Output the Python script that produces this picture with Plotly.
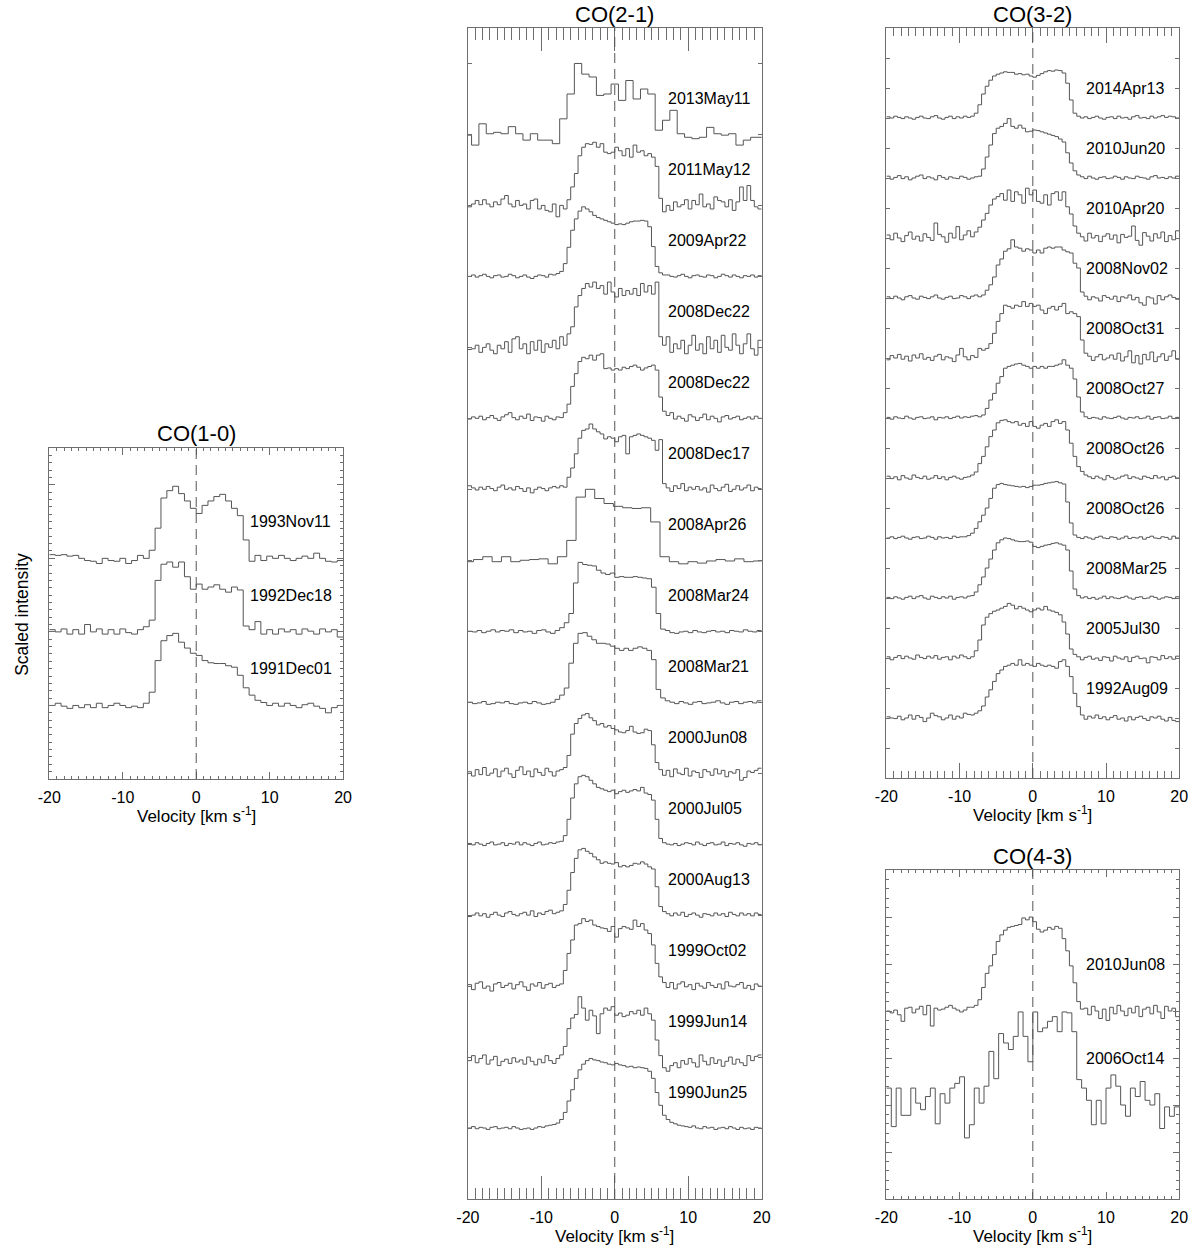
import numpy as np
import plotly.graph_objects as go

W, H = 1200, 1247

# ---------------------------------------------------------------- data
vel_ticks = [-20, -10, 0, 10, 20]
vel_ticktext = ["-20", "-10", "0", "10", "20"]

# intensities in percent of the scaled peak, per channel

# CO(1-0): 0.8 km/s channels from -20 km/s
co10_1993Nov11 = [5, 4, 5, 3, 4, 0, -3, -4, -7, 0, -3, -4, 0, -7, -3, 4, 0, 11, 41, 82,
                  92, 98, 88, 78, 68, 61, 72, 78, 84, 87, 78, 68, 58, 25, -4, 4, -3, 3, 0, 4,
                  0, -3, 0, 3, 0, 7, 0, -4, -5, -3]
co10_1992Dec18 = [3, 0, 4, -3, 3, -3, 10, 0, 4, -3, 3, -3, 4, -1, -3, 3, 7, 16, 70, 92,
                  95, 88, 95, 75, 58, 65, 58, 61, 64, 58, 54, 61, 57, 8, 3, 14, -3, 3, -3, 4,
                  0, 3, -3, 4, 1, -3, 4, 0, 3, -7]
co10_1991Dec01 = [0, 3, -1, -4, 0, -3, 1, -3, 3, -3, 0, 3, 0, -3, -1, -3, 3, 18, 61, 88,
                  95, 98, 86, 78, 71, 68, 61, 58, 57, 57, 54, 52, 41, 24, 14, 7, 4, 0, 3, -1,
                  3, 0, -3, 1, 3, -1, -4, -10, -3, 0]

# CO(2-1)
co21_2013May11 = [-1, -15, 15, 1, 3, 1, 11, 1, -8, 1, -8, -8, -13, 22, 57, 100, 85, 81, 55, 57,
                  71, 48, 76, 50, 64, 57, 6, 20, 34, 1, -4, -6, -4, 10, 1, -1, 1, -15, -8, -4, -4]
co21_2011May12 = [-2, 2, 7, 1, 8, 2, -2, 5, 1, 9,
                  14, 2, -2, 7, 0, 2, -5, 7, 9, -5,
                  0, -7, -9, 2, -16, 0, -5, 8, 26, 45,
                  70, 82, 87, 86, 89, 82, 87, 75, 73, 75,
                  82, 77, 70, 80, 68, 85, 75, 77, 70, 73,
                  68, 55, 10, -9, 0, -7, 5, -2, 1, 8,
                  -5, 7, 1, 16, -2, 2, -5, 12, 7, 5,
                  -2, 8, -7, 5, 26, 7, 28, 7, -2, -5]
co21_2009Apr22 = [0, 2, -1, 1, 3, 0, -2, 1, 2, -1, 0, 3, 1, -2, 0, 2, -1, -3, 0, 2, 1, -1, 3, 2, 4, 7,
                  18, 41, 65, 81, 92, 98, 95, 91, 86, 83, 81, 79, 77, 75, 73, 74, 73, 75, 77, 78,
                  78, 79, 78, 70, 42, 14, 5, 2,
                  2, 0, -1, 1, 3, 0, -2, 1, 2, 0, -1, 2, 1, -2, 0, 3, 1, -1, 2, 0, -2, 1, 0, 2, -1, 1]
co21_2008Dec22a = [-3, -2, 3, -7, 0, 5, -4, -9, 3, -2,
                   8, -7, 12, 15, -2, 5, -9, 8, -4, 10,
                   -7, 5, 0, 10, -2, 15, 3, 19, 29, 57,
                   73, 83, 90, 85, 92, 83, 87, 75, 92, 78,
                   71, 83, 73, 80, 75, 83, 73, 90, 78, 87,
                   75, 92, 15, 3, 15, -7, 5, -2, 10, -9,
                   3, 17, -4, 5, -9, 15, -2, 10, -7, 17,
                   0, -4, 19, 3, -9, 5, 19, -2, -11, 10]
co21_2008Dec22b = [-1, 2, 0, 3, -2, 1, 4, 0, -3, 2, 5, 8, 1, -2, 3, 0, 6, -3, 2, 1, -4, 3, 0, -2, 2, 1,
                   8, 20, 45, 63, 80, 86, 84, 89, 82, 89, 91, 70, 71, 68, 70, 68, 72, 70, 73, 75,
                   72, 68, 71, 73, 75, 68, 30, 10,
                   4, 8, -1, 3, 0, -4, 5, 2, -3, 1, 6, -2, 3, 0, -5, 2, 4, -1, 1, 3, -2, 0, 2, -1, 3, 0]
co21_2008Dec17 = [5, 2, -1, 3, 0, 4, 1, -2, 3, 6, 0, 2, -1, 4, 1, -3, 2, -5, 0, 3, 1, -2, 2, 4, 2, 5,
                  3, 17, 30, 50, 72, 83, 85, 92, 85, 81, 78, 71, 74, 72, 67, 74, 76, 50, 74, 76,
                  78, 76, 74, 72, 69, 55, 70, 8,
                  2, -3, 5, 1, 8, -2, 3, 0, 4, -1, 2, -4, 6, 1, -2, 3, 7, -3, 0, 5, -1, 2, 6, -2, 3, 1]
co21_2008Apr26 = [-2, 1, 5, -2, 5, -2, 0, 1, 2, -5, 5, 28, 89, 100, 87, 80, 76, 74, 73, 74,
                  54, 5, -2, -5, -2, -4, -1, 1, -1, 2, -2, -1]
co21_2008Mar24 = [0, -1, 1, -2, 0, 2, -1, 1, 0, 2, -2, 1, -1, 0, -3, 1, 2, -1, -3, 1, 5,
                  12, 25, 68, 97, 94, 93, 92, 86, 82, 80, 82, 76, 77, 76, 76, 77, 76, 75, 74, 62, 25, 3,
                  1, -2, -3, -1, 0, -2, 1, -1, -2, 0, 1, -1, 0, -2, 1, 0, -1, 2, 0, -1, 1]
co21_2008Mar21 = [0, -2, -1, 1, -3, -2, 0, -1, 1, -2, -3, -1, 0, -2, 1, -1, -3, -2, 0, 4,
                  10, 20, 55, 83, 97, 98, 93, 88, 83, 83, 82, 79, 76, 73, 76, 73, 76, 78, 76, 73, 60, 18, 6,
                  2, 0, -2, 1, -1, -3, 0, 1, -2, -1, 0, 2, -1, -3, 0, 1, -2, 0, 1, -1, 2]
co21_2000Jun08 = [2, -4, 5, -2, 8, -3, 0, 6, -5, 3, 7, -1, -6, 4, 9, -2, 3, -5, 6, 1, -3, 7, 2, -4, 3, 5,
                  8, 25, 55, 70, 77, 82, 84, 78, 74, 68, 70, 65, 67, 63, 61, 58, 57, 60, 66, 58,
                  56, 57, 62, 60, 40, 15, 5,
                  -3, 4, -5, 6, 0, -2, 7, -4, 3, 1, -6, 5, 2, -3, 6, -1, 4, -5, 2, 0, 5, -10, -6, 3, 1, 4, 7]
co21_2000Jul05 = [1, -1, 2, 0, -2, 1, 3, -1, 0, 2, -2, 1, 0, 3, -1, 2, 0, -2, 1, 3, -1, 0, 2, 1, 3, 4,
                  12, 35, 65, 85, 95, 97, 95, 90, 85, 80, 78, 76, 74, 76, 71, 74, 76, 73, 75, 77,
                  75, 80, 72, 70, 62, 35, 8,
                  2, 0, -1, 1, -2, 0, 2, 1, -1, 3, 0, -2, 1, 2, -1, 0, 3, -2, 1, 0, 2, -1, -3, 1, 0, 2, -1]
co21_2000Aug13 = [-2, 0, 3, -1, 2, -3, 1, 4, 0, -2, 3, 5, 1, -1, 2, 4, 0, 6, -2, 3, 1, 5, 7, 2, 4, 6,
                  15, 35, 60, 80, 92, 94, 90, 87, 82, 78, 73, 75, 73, 72, 74, 68, 70, 68, 70, 73,
                  72, 75, 72, 68, 65, 40, 12,
                  5, 2, -1, 3, 0, 4, -2, 1, 3, 0, -3, 2, 1, -1, 3, 0, 2, -2, 4, 1, -1, 3, 0, 2, -1, 3, 1]
co21_1999Oct02 = [2, -5, 4, 6, -3, 0, -7, 3, 5, -2, 1, 4, -4, 2, 6, -1, -6, 3, 0, 5, -3, 2, 4, -2, 1,
                  3, 22, 46, 65, 86, 88, 95, 91, 93, 86, 84, 82, 81, 77, 84, 69, 81, 84, 82, 80,
                  93, 84, 88, 79, 74, 58, 32, 13, 5,
                  -2, 5, -4, 3, 6, -1, 2, -5, 4, 0, -3, 5, 1, -2, 3, -4, 6, 0, -1, 2, 5, -3, 1, -5, 3, 0]
co21_1999Jun14 = [-5, 2, -8, -2, 3, -10, -4, 1, -12, -6, -3, -9, -1, -7, -4, -10, 0, -6, -11, -3,
                  -8, 2, -5, -9, -2, 3,
                  15, 40, 55, 60, 85, 69, 52, 66, 58, 33, 61, 69, 66, 71, 59, 62, 57, 59, 64, 61,
                  66, 59, 69, 61, 52, 24, 2, -15,
                  -20, -12, -8, -15, -5, -10, -2, -8, -14, 3, -6, -11, -1, -9, -4, -13, -6, 0,
                  -10, -3, -8, -12, 2, -5, 1, 3]
co21_1990Jun25 = [0, 2, -1, 1, 0, -2, 1, 2, -1, 0, 1, -1, 2, 0, -2, -1,
                  0, -2, 0, 2, 1, 3, 4, 5, 7, 12, 22, 38, 54, 70, 82, 90, 95, 98, 96, 95,
                  93, 92, 90, 89, 91, 89, 88, 86, 87, 85, 86, 85, 84, 80, 70, 50, 32, 18, 12, 8,
                  6, 4, 3,
                  2, 1, 3, 0, -1, 2, 0, 1, -2, 0, 1, -1, 2, 0, -2, 1, -1, 0, -2, 1, 0]

# CO(3-2): 0.5 km/s channels
co32_2014Apr13 = [2, 0, 3, 1, -1, 2, 0, -2, 1, 3, 0, -1, 2, 4, 0, -2, 1, 3, -1, 2, 0, 3, 1,
                  3, 8, 22, 40, 53, 63, 70, 73, 75, 77, 76, 76, 73, 74, 72, 73, 70, 68, 71, 74,
                  77, 79, 78, 80, 79, 75, 58, 30, 8, 3,
                  0, 2, -1, 1, 3, 0, -2, 1, 2, -1, 3, 0, 1, -2, 2, 4, 0, 1, -1, 3, 0, 2, 4, 1, 3, 2, 0]
co32_2010Jun20 = [3, -2, 1, 4, -1, 2, -3, 0, 3, 5, -1, 2, 0, -3, 4, 1, -2, 2, 0, -1, 3, 1, -2, 0, 2,
                  3, 15, 35, 55, 74, 83, 86, 91, 99, 86, 83, 88, 83, 77, 78, 80, 79, 77, 75, 73,
                  71, 69, 65, 60, 42, 25, 12, 5,
                  2, -1, 3, 0, -2, 1, 2, -1, 0, 3, 1, -2, 2, 0, -1, 3, 1, 0, -2, 2, 4, 0, 1, -1, 2, 0, 3]
co32_2010Apr20 = [5, -3, 8, 0, -6, 4, 10, -2, 3, -5, 7, 1, -4, 25, 6, 2, -7, 8, 0, 19, -3, 5, 12, 2,
                  10, 18, 30, 41, 55, 65, 69, 74, 63, 80, 61, 77, 72, 58, 83, 72, 80, 61, 58, 72,
                  55, 74, 77, 63, 77, 52, 40, 20, 8,
                  2, -5, 8, 0, 4, -6, 3, 7, -2, 5, -8, 6, 1, 3, 20, -4, -12, 9, 3, -5, 7, 0, 10, -6, 4, -3, 12]
co32_2008Nov02 = [2, -1, 3, 0, -3, 2, 4, 0, -2, 3, 1, -1, 2, 5, 0, -2, 1, 3, -1, 0, 4, 2, -1, 3, 5, 2,
                  5, 13, 22, 35, 55, 65, 78, 82, 97, 85, 83, 78, 82, 80, 75, 80, 75, 83, 85, 83,
                  85, 85, 80, 77, 75, 58, 50, 10, 3,
                  -3, 2, 0, -5, 4, 1, -2, 3, -6, 2, 0, 5, -3, 1, -8, -12, 2, 0, -10, 4, -3, 2, 5, 1, -2]
co32_2008Oct31 = [-3, 4, 0, 6, -2, 3, -5, 5, 0, 7, -2, 1, -4, 3, 6, -3, 2, 0, -6, 5, 16, 2, -3, 4, 1, 16, 13,
                  16, 24, 41, 61, 74, 88, 86, 83, 88, 86, 94, 86, 91, 86, 88, 80, 74, 83, 86, 80,
                  86, 91, 74, 77, 74, 69, 30, 8,
                  3, -4, 2, 6, -3, 0, 5, -2, 8, -5, 2, 12, -8, 4, -10, 6, -3, 10, -6, 2, 7, -4, 3, 12, -2]
co32_2008Oct27 = [1, -2, 2, 0, -1, 3, 0, -2, 1, 2, -1, 0, 2, -3, 1, 0, 2, -1, 1, 3, 0, 2, 1, 3, 4, 2,
                  5, 16, 30, 41, 58, 69, 83, 86, 88, 90, 91, 88, 86, 83, 86, 83, 86, 83, 86, 86,
                  88, 90, 97, 88, 83, 65, 35, 10, 2,
                  -1, 1, 0, -2, 2, 0, -1, 1, 3, 0, -2, 1, 0, 2, -1, 0, 3, -2, 1, 2, -1, 0, 3, -1, 1]
co32_2008Oct26a = [3, -1, 2, -3, 4, 0, -2, 5, 1, -1, 3, -2, 0, 4, -1, 2, -3, 1, 3, 0, -2, 1,
                   2, 5, 10, 24, 36, 52, 69, 80, 92, 96, 97, 94, 92, 94, 88, 91, 86, 94, 86, 83,
                   88, 91, 86, 94, 97, 91, 94, 80, 58, 36, 19, 11, 5,
                   2, -1, 3, 0, -3, 4, 1, -2, 0, 3, 5, -1, 2, 0, -2, 3, 1, -1, 4, 0, 2, -3, 1, 3, 0]
co32_2008Oct26b = [0, 2, -1, 1, 3, 0, -2, 1, 2, -1, 0, 3, 1, -2, 2, 0, 1, -1, 3, 1, 2,
                   2, 4, 8, 16, 27, 38, 50, 66, 83, 89, 91, 89, 88, 87, 86, 85, 86, 84, 86, 88,
                   88, 89, 91, 92, 93, 94, 92, 90, 60, 25, 5, 1,
                   -1, 2, 0, -2, 1, 3, 0, -1, 2, 1, -2, 0, 3, -1, 1, 0, 2, -2, 1, 3, 0, -1, 2, 1, -2, 3, 0]
co32_2008Mar25 = [1, -1, 2, 0, -2, 1, 3, -1, 2, 4, 0, -2, 3, 1, -1, 2, 0, 3, -2, 1, 2, 0, 3,
                  4, 10, 22, 35, 50, 65, 80, 92, 97, 100, 99, 97, 95, 94, 94, 95, 93, 86, 84, 86,
                  88, 89, 91, 92, 90, 88, 80, 45, 15, 4,
                  0, 2, -1, 1, -2, 0, 3, -1, 2, 0, -1, 1, 3, 0, -2, 1, 2, -1, 0, 3, 1, -2, 0, 2, 1, -1, 2]
co32_2005Jul30 = [2, -3, 1, 4, -1, 3, 0, -2, 5, 1, -1, 3, 0, 4, -2, 1, 2, -3, 3, 0, 5, 2, -1,
                  2, 12, 30, 55, 68, 74, 78, 80, 83, 86, 91, 88, 82, 86, 83, 80, 77, 80, 83, 80,
                  86, 80, 78, 76, 72, 60, 40, 15, 6, 2,
                  -3, 1, 3, -2, 0, -4, 2, 1, -5, 3, 0, -2, 2, -6, 1, 3, -1, 0, -8, 2, 1, -3, 4, -1, 2, -2, 3]
co32_1992Aug09 = [2, 0, -1, 3, -3, 0, 5, -2, 4, 1, -6, 0, 8, 4, 2, -3, 0, 5, -2, 3, 0, 8, 6,
                  5, 8, 12, 20, 35, 47, 61, 74, 80, 86, 88, 91, 88, 97, 88, 91, 88, 86, 91, 88,
                  86, 88, 86, 83, 94, 97, 86, 69, 41, 19, 5,
                  -2, 3, 0, 5, -1, 2, -3, 1, 4, -2, 0, -5, 2, -3, 1, 3, -1, -4, 2, 0, 3, -2, -5, 1, -4, -6]

# CO(4-3)
co43_2010Jun08 = [0, -2, 1, -4, -11, 3, 4, -2, 2, 5, -4, 6, -16, 3, 1, 2, 4, 6, 3, 1, -1, 1, 4,
                  4, 6, 12, 25, 40, 48, 60, 74, 81, 86, 89, 90, 91, 92, 99, 97, 100, 95, 87, 84,
                  86, 89, 87, 90, 88, 77, 64, 48, 30, 10, 2,
                  3, -4, 5, 0, -8, 2, -10, 4, -3, 6, 0, -5, 3, -2, 5, -6, 2, 4, -3, 6, -1, -8, 5, 0, 3, -6]
co43_2006Oct14 = [18, -23, 18, -11, -11, 18, 2, -5, 9, 18, -20, 12, 2, 18, 23, 30, -35, -21, 18, 2,
                  20, 57, 28, 76, 66, 59, 73, 99, 73, 46, 99, 78, 82, 89, 94, 78, 99, 98, 78, 27,
                  18, 5, -21, 5, -20, 18, 32, 20, 0, -12, 18, 9, 25, 5, 0, 12, -25, -2, -12, -2]

# spectra table: panel, date label, offset (scaled intensity), left edge of first channel, channel width, values
spectra = [
    ("co10", "1993Nov11", 2, -20.0, 0.8, co10_1993Nov11),
    ("co10", "1992Dec18", 1, -20.0, 0.8, co10_1992Dec18),
    ("co10", "1991Dec01", 0, -20.0, 0.8, co10_1991Dec01),

    ("co21", "2013May11", 14, -20.5, 1.0, co21_2013May11),
    ("co21", "2011May12", 13, -20.0, 0.5, co21_2011May12),
    ("co21", "2009Apr22", 12, -20.0, 0.5, co21_2009Apr22),
    ("co21", "2008Dec22", 11, -20.0, 0.5, co21_2008Dec22a),
    ("co21", "2008Dec22", 10, -20.0, 0.5, co21_2008Dec22b),
    ("co21", "2008Dec17", 9, -20.0, 0.5, co21_2008Dec17),
    ("co21", "2008Apr26", 8, -20.51, 1.27, co21_2008Apr26),
    ("co21", "2008Mar24", 7, -20.0, 0.625, co21_2008Mar24),
    ("co21", "2008Mar21", 6, -20.0, 0.625, co21_2008Mar21),
    ("co21", "2000Jun08", 5, -20.0, 0.5, co21_2000Jun08),
    ("co21", "2000Jul05", 4, -20.0, 0.5, co21_2000Jul05),
    ("co21", "2000Aug13", 3, -20.0, 0.5, co21_2000Aug13),
    ("co21", "1999Oct02", 2, -20.0, 0.5, co21_1999Oct02),
    ("co21", "1999Jun14", 1, -20.0, 0.5, co21_1999Jun14),
    ("co21", "1990Jun25", 0, -20.0, 0.5, co21_1990Jun25),

    ("co32", "2014Apr13", 10, -20.0, 0.5, co32_2014Apr13),
    ("co32", "2010Jun20", 9, -20.0, 0.5, co32_2010Jun20),
    ("co32", "2010Apr20", 8, -20.0, 0.5, co32_2010Apr20),
    ("co32", "2008Nov02", 7, -20.0, 0.5, co32_2008Nov02),
    ("co32", "2008Oct31", 6, -20.0, 0.5, co32_2008Oct31),
    ("co32", "2008Oct27", 5, -20.0, 0.5, co32_2008Oct27),
    ("co32", "2008Oct26", 4, -20.0, 0.5, co32_2008Oct26a),
    ("co32", "2008Oct26", 3, -20.0, 0.5, co32_2008Oct26b),
    ("co32", "2008Mar25", 2, -20.0, 0.5, co32_2008Mar25),
    ("co32", "2005Jul30", 1, -20.0, 0.5, co32_2005Jul30),
    ("co32", "1992Aug09", 0, -20.0, 0.5, co32_1992Aug09),

    ("co43", "2010Jun08", 1, -20.0, 0.5, co43_2010Jun08),
    ("co43", "2006Oct14", 0, -20.0, 2.0 / 3.0, co43_2006Oct14),
]

# ---------------------------------------------------------------- layout / style
FONT = "Liberation Sans, Arial, Helvetica, sans-serif"
LINE = "#555555"
FRAME = "#6e6e6e"

# pixel boxes (left, right, top, bottom) of each panel frame
panels = {
    "co10": dict(n=1, title="CO(1-0)", box=(38, 337, 448, 779), yr=[-1, 3.5],
                 xmaj=6.6, xmin=3.3, ydt=1, ylen=6, ymdt=0.1, ymlen=3),
    "co21": dict(n=2, title="CO(2-1)", box=(464, 763, 28, 1199), yr=[-1, 15.5],
                 xmaj=23, xmin=11.5, ydt=1, ylen=4, ymdt=None, ymlen=0),
    "co32": dict(n=3, title="CO(3-2)", box=(890, 1188, 28, 778), yr=[-1, 11.5],
                 xmaj=15, xmin=7.5, ydt=0.5, ylen=4, ymdt=None, ymlen=0),
    "co43": dict(n=4, title="CO(4-3)", box=(890, 1188, 870, 1199), yr=[-1, 2.5],
                 xmaj=6.6, xmin=3.3, ydt=0.5, ylen=6, ymdt=0.1, ymlen=3),
}

fig = go.Figure()

for panel, label, off, v0, dv, vals in spectra:
    p = panels[panel]
    sfx = "" if p["n"] == 1 else str(p["n"])
    v = np.asarray(vals, dtype=float) / 100.0 + off
    edges = v0 + dv * np.arange(len(vals) + 1)
    yy = np.append(v, v[-1])
    fig.add_trace(go.Scatter(
        x=edges, y=yy, mode="lines",
        line=dict(shape="hv", color=LINE, width=1),
        xaxis="x" + sfx, yaxis="y" + sfx,
        hoverinfo="skip", showlegend=False))
    fig.add_annotation(
        x=7.0, y=off + 0.5, xref="x" + sfx, yref="y" + sfx,
        text=label, showarrow=False, xanchor="left", yanchor="middle",
        font=dict(family=FONT, size=16, color="black"))

layout = {}
shapes = []
annotations = list(fig.layout.annotations)
for key, p in panels.items():
    n = p["n"]
    sfx = "" if n == 1 else str(n)
    l, r, t, b = p["box"]
    xdom = [l / W, r / W]
    ydom = [1 - b / H, 1 - t / H]
    layout["xaxis" + sfx] = dict(
        domain=xdom, anchor="y" + sfx, range=[-20, 20],
        showline=True, linecolor=FRAME, linewidth=1, mirror="ticks",
        ticks="inside", ticklen=p["xmaj"], tickwidth=1, tickcolor=FRAME,
        tickmode="array", tickvals=vel_ticks, ticktext=vel_ticktext,
        tickfont=dict(family=FONT, size=16, color="black"),
        ticklabelstandoff=4,
        minor=dict(ticks="inside", ticklen=p["xmin"], tickmode="linear", tick0=0, dtick=1,
                   tickcolor=FRAME, tickwidth=1, showgrid=False),
        showgrid=False, zeroline=False, fixedrange=True)
    yax = dict(
        domain=ydom, anchor="x" + sfx, range=p["yr"],
        showline=True, linecolor=FRAME, linewidth=1, mirror="ticks",
        ticks="inside", ticklen=p["ylen"], tickwidth=1, tickcolor=FRAME,
        tickmode="linear", tick0=0, dtick=p["ydt"], showticklabels=False,
        showgrid=False, zeroline=False, fixedrange=True)
    if p["ymdt"]:
        yax["minor"] = dict(ticks="inside", ticklen=p["ymlen"], tickmode="linear", tick0=0,
                            dtick=p["ymdt"], tickcolor=FRAME, tickwidth=1, showgrid=False)
    layout["yaxis" + sfx] = yax

    shapes.append(dict(type="line", xref="x" + sfx, yref="y" + sfx + " domain",
                       x0=0, x1=0, y0=0, y1=1,
                       line=dict(color=LINE, width=1, dash="10px,6px")))
    cx = (l + r) / 2 / W
    annotations.append(dict(x=cx, y=1 - (t - 14) / H, xref="paper", yref="paper",
                            text=p["title"], showarrow=False, xanchor="center", yanchor="middle",
                            font=dict(family=FONT, size=22, color="black")))
    annotations.append(dict(x=cx, y=1 - (b + 36) / H, xref="paper", yref="paper",
                            text="Velocity [km s<sup>-1</sup>]", showarrow=False,
                            xanchor="center", yanchor="middle",
                            font=dict(family=FONT, size=17, color="black")))

annotations.append(dict(x=10 / W, y=1 - 614 / H, xref="paper", yref="paper",
                        text="Scaled intensity", showarrow=False, textangle=-90,
                        xanchor="center", yanchor="middle",
                        font=dict(family=FONT, size=17.5, color="black")))

fig.update_layout(
    width=W, height=H, autosize=False, margin=dict(l=0, r=0, t=0, b=0, pad=0),
    paper_bgcolor="white", plot_bgcolor="white",
    font=dict(family=FONT, color="black"),
    shapes=shapes, annotations=annotations, showlegend=False,
    **layout)

fig.write_html(
    "out.html",
    config={"displayModeBar": False, "responsive": False, "staticPlot": True},
    post_script=("document.documentElement.style.margin='0px';"
                 "document.body.style.margin='0px';"
                 "document.body.style.padding='0px';"
                 "var gd=document.getElementsByClassName('plotly-graph-div')[0];"
                 "gd.style.position='absolute';gd.style.left='0px';gd.style.top='0px';"))
